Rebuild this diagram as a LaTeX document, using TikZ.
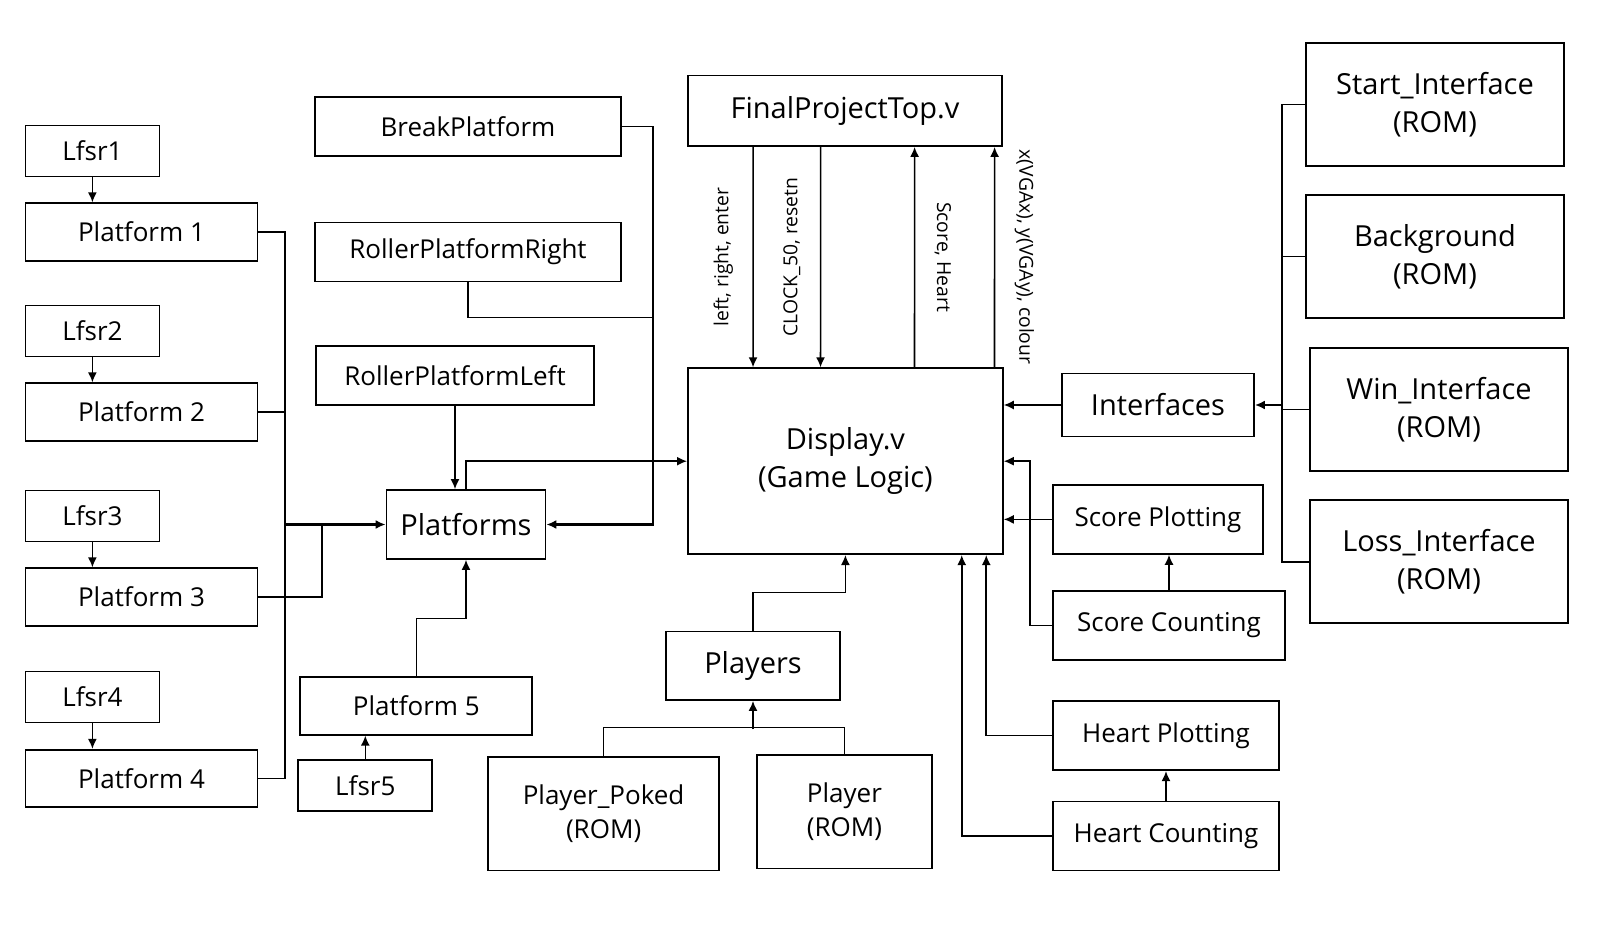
\documentclass[tikz,border=0pt]{standalone}
\usepackage{fontspec}
\setmainfont{Open Sans}
\usetikzlibrary{arrows.meta}

\begin{document}
\begin{tikzpicture}[x=0.02cm, y=-0.02cm, line width=0.9pt, >={Latex[length=2mm,width=1.8mm]}]
            \tikzstyle{box}=[draw, line width=1pt, inner sep=0pt, align=center, font=\fontsize{14.8}{19}\selectfont];
            \tikzstyle{big}=[box, font=\fontsize{16.5}{21.5}\selectfont];
            \tikzstyle{lfsr}=[box, minimum width=2.68cm, minimum height=1.02cm];
            \tikzstyle{plat}=[box, minimum width=4.64cm, minimum height=1.15cm];
            \tikzstyle{rom}=[big, minimum width=5.16cm, minimum height=2.46cm];
            \tikzstyle{sig}=[inner sep=11pt, anchor=south, font=\fontsize{11}{13}\selectfont];
            \useasboundingbox (0,0) rectangle (1600,925);

            \node (lfsra) [lfsr] at (92.4,151) {Lfsr1};
            \node (pa) [plat] at (141.5,232) {Platform 1};
            \node (lfsrb) [lfsr] at (92.4,331) {Lfsr2};
            \node (pb) [plat] at (141.5,412) {Platform 2};
            \node (lfsrc) [lfsr] at (92.4,516) {Lfsr3};
            \node (pc) [plat] at (141.5,597) {Platform 3};
            \node (lfsrd) [lfsr] at (92.4,697) {Lfsr4};
            \node (pd) [plat] at (141.5,778.5) {Platform 4};
            \node (lfsre) [lfsr] at (365.3,785.6) {Lfsr5};
            \node (pe) [plat] at (416.3,706) {Platform 5};
            \node (platforms) [big, minimum width=3.18cm, minimum height=1.38cm] at (466,524.5) {Platforms};
            \node (brk) [box, minimum width=6.12cm, minimum height=1.18cm] at (468,126.7) {BreakPlatform};
            \node (rpr) [box, minimum width=6.12cm, minimum height=1.18cm] at (468,252) {RollerPlatformRight};
            \node (rpl) [box, minimum width=5.56cm, minimum height=1.18cm] at (455,375.3) {RollerPlatformLeft};

            \node (top) [big, minimum width=6.28cm, minimum height=1.41cm] at (845,110.8) {FinalProjectTop.v};
            \node (disp) [big, minimum width=6.3cm, minimum height=3.72cm] at (845.4,461.2) {Display.v\\(Game Logic)};
            \node (players) [big, minimum width=3.47cm, minimum height=1.37cm] at (753,665.8) {Players};
            \node (poked) [box, minimum width=4.63cm, minimum height=2.27cm] at (603.6,813.7) {Player\_Poked\\(ROM)};
            \node (player) [box, minimum width=3.49cm, minimum height=2.27cm] at (844.4,811.7) {Player\\(ROM)};

            \node (ifc) [big, minimum width=3.84cm, minimum height=1.26cm] at (1158,405) {Interfaces};
            \node (start) [rom] at (1435,104.6) {Start\_Interface\\(ROM)};
            \node (bg) [rom] at (1435,256.7) {Background\\(ROM)};
            \node (win) [rom] at (1439,409.7) {Win\_Interface\\(ROM)};
            \node (loss) [rom] at (1439,561.8) {Loss\_Interface\\(ROM)};
            \node (scplot) [box, minimum width=4.2cm, minimum height=1.38cm] at (1158,519.4) {Score Plotting};
            \node (sccount) [box, minimum width=4.64cm, minimum height=1.38cm] at (1169,625.5) {Score Counting};
            \node (htplot) [box, minimum width=4.52cm, minimum height=1.38cm] at (1166,735.7) {Heart Plotting};
            \node (htcount) [box, minimum width=4.52cm, minimum height=1.38cm] at (1166,836) {Heart Counting};

            \foreach \l/\p in {lfsra/pa, lfsrb/pb, lfsrc/pc, lfsrd/pd}
                \draw[->] (\l.south) -- (\l.south |- \p.north);
            \draw[->] (lfsre.north) -- (lfsre.north |- pe.south);

            \coordinate (bus) at (285,524.5);
            \coordinate (busc) at (322,524.5);
            \draw (pa.east) -| (bus) |- (pd.east);
            \draw (pb.east) -- (pb.east -| bus);
            \draw (pc.east) -| (busc);
            \draw[->, line width=1.4pt] (bus) -- (platforms.west);

            \coordinate (rjoin) at (653,317.3);
            \draw (brk.east) -| (rjoin);
            \draw (rpr.south) |- (rjoin);
            \draw[->, line width=1.4pt] (rjoin) |- (platforms.east);
            \draw[->] (rpl.south) -- (rpl.south |- platforms.north);
            \draw[->] (platforms.north) |- (disp.west);
            \draw[->] (pe.north) -- ++(0,-58) -| (platforms.south);

            \draw[->] ([xshift=1.32cm]top.south west) -- node[sig, rotate=90] {left, right, enter} ([xshift=1.32cm]disp.north west);
            \draw[->] ([xshift=2.67cm]top.south west) -- node[sig, rotate=90] {CLOCK\_50, resetn} ([xshift=2.67cm]disp.north west);
            \draw[->] ([xshift=4.55cm]disp.north west) -- node[sig, rotate=-90] {Score, Heart} ([xshift=4.55cm]top.south west);
            \draw[->] ([xshift=6.15cm]disp.north west) -- node[sig, rotate=-90] {x(VGAx), y(VGAy), colour} ([xshift=6.15cm]top.south west);

            \coordinate (ib) at (1282,405);
            \draw (start.west) -| (ib) |- (loss.west);
            \draw (bg.west) -- (bg.west -| ib);
            \draw (win.west) -- (win.west -| ib);
            \draw[->, line width=1.4pt] (ib) -- (ifc.east);
            \draw[->] (ifc.west) -- (ifc.west -| disp.east);
            \draw[->] (scplot.west) -- (scplot.west -| disp.east);
            \draw[->] (sccount.north) -- (sccount.north |- scplot.south);
            \draw[->] (sccount.west) -- ++(-22,0) |- (disp.east);
            \draw[->] (htcount.north) -- (htcount.north |- htplot.south);
            \draw[->] (htplot.west) -| ([xshift=-0.35cm]disp.south east);
            \draw[->] (htcount.west) -| ([xshift=-0.84cm]disp.south east);

            \draw[->] (players.north) -- ++(0,-38) -| (disp.south);
            \draw (poked.north) -- ++(0,-28.4) -| (player.north);
            \draw[->] ([yshift=-0.57cm]players.south) -- (players.south);
        \end{tikzpicture}
\end{document}
